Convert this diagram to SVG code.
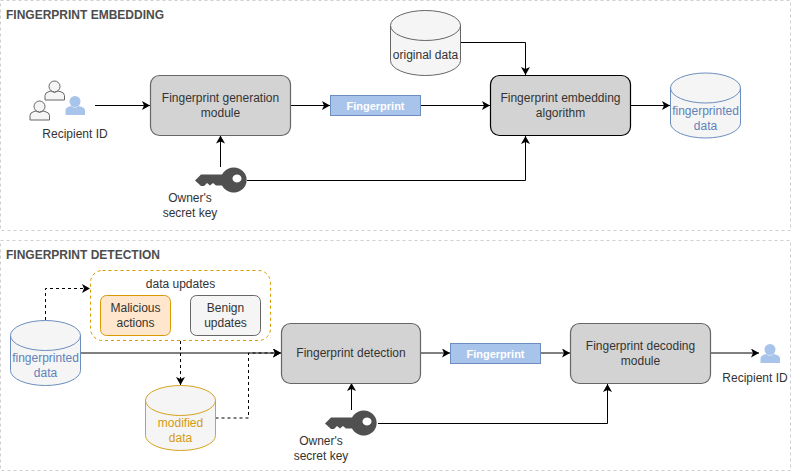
<svg xmlns="http://www.w3.org/2000/svg" width="801" height="471" viewBox="0 0 801 471">
<style>
text{font-family:"Liberation Sans",Arial,sans-serif;font-size:12px;fill:#333;text-anchor:middle}
.title{font-weight:bold;fill:#4d4d4d;text-anchor:start}
.panel{fill:#fff;stroke:#cfcfcf;stroke-dasharray:3 3}
.box{fill:#d3d3d3;stroke:#666;stroke-width:1.2}
.fp{fill:#a9c4eb;stroke:#6c8ebf}
.fpt{fill:#fff;font-weight:bold;font-size:11px}
.cyl{fill:#f5f5f5;stroke:#666}
.blue .cyl{stroke:#6c8ebf}
.blue text{fill:#5f82b8}
.gold .cyl{stroke:#d6a320}
.gold text{fill:#d49a10}
.line{fill:none;stroke:#000;stroke-width:1;marker-end:url(#arr)}
.dash{stroke-dasharray:3 3}
.key{fill:#505050}
.pg{fill:#f5f5f5;stroke:#666}
.pb{fill:#a9c4eb}
</style>
<defs>
<marker id="arr" markerUnits="userSpaceOnUse" markerWidth="9" markerHeight="10" refX="8" refY="4.5" orient="auto"><path d="M0 0L8 4.500L0 9L2 4.500Z" fill="#000"/></marker>
<path id="keyshape" fill-rule="evenodd" d="M0 12.500L6 6.500H27A13 12.500 0 1 1 27 17.500H21L18 15L15 17.500L12 15L9 18H6Z M42 6.500a4.500 4 0 1 0 .01 0Z"/>
<g id="person"><circle cx="9.500" cy="6.500" r="5.500"/><path d="M0 20V15.500Q0 12.500 4 11.500L6 11Q9.500 14 13 11L15 11.500Q19.500 12.500 19.500 15.500V20Z"/></g>
</defs>
<rect width="801" height="471" fill="#fff"/>
<g id="panels">
<rect id="panel-embedding" class="panel" x="0.500" y="0.500" width="790" height="230"/>
<rect id="panel-detection" class="panel" x="0.500" y="240.500" width="790" height="230"/>
<text class="title" x="6" y="19">FINGERPRINT EMBEDDING</text>
<text class="title" x="6" y="259">FINGERPRINT DETECTION</text>
</g>
<g id="connectors">
<path class="line" d="M95 105.500H150"/>
<path class="line" d="M290.500 105.500H330"/>
<path class="line" d="M420.500 105.500H490"/>
<path class="line" d="M630.500 105.500H670"/>
<path class="line" d="M460.500 42.500H525.500V75"/>
<path class="line" d="M220.500 167V135.500"/>
<path class="line" d="M247 180.500H525.500V136"/>
<path class="line dash" d="M45.500 320V288.500H90"/>
<path class="line" d="M80.500 353H281"/>
<path class="line dash" d="M180.500 341V385"/>
<path class="line dash" d="M215.500 418H248.500V353H281"/>
<path class="line" d="M420.500 353H450"/>
<path class="line" d="M540.500 353H570"/>
<path class="line" d="M710.500 353H759"/>
<path class="line" d="M351.500 410V383"/>
<path class="line" d="M378 423.500H607.500V384"/>
</g>
<g id="recipients">
<use href="#person" class="pg" x="45" y="80"/>
<use href="#person" class="pg" x="30" y="100"/>
<use href="#person" class="pb" x="65.500" y="95"/>
<text x="75" y="138">Recipient ID</text>
</g>
<g id="generation"><rect class="box" x="150.500" y="75.500" width="140" height="60" rx="9"/><text x="220.500" y="102">Fingerprint generation</text><text x="220.500" y="117">module</text></g>
<g id="fingerprint-1"><rect class="fp" x="330.500" y="95.500" width="90" height="20"/><text class="fpt" x="375.500" y="109.500">Fingerprint</text></g>
<g id="embedding"><rect class="box" style="stroke:#000" x="490.500" y="75.500" width="140" height="60" rx="9"/><text x="560.500" y="102">Fingerprint embedding</text><text x="560.500" y="117">algorithm</text></g>
<g id="original-data"><path class="cyl" d="M390.500 25.500A35 15 0 0 1 460.500 25.500V60.500A35 15 0 0 1 390.500 60.500Z"/><path class="cyl" style="fill:none" d="M390.500 25.500A35 15 0 0 0 460.500 25.500"/><text x="425.500" y="59">original data</text></g>
<g id="fingerprinted-1" class="blue"><path class="cyl" d="M670.500 88A35 15 0 0 1 740.500 88V123A35 15 0 0 1 670.500 123Z"/><path class="cyl" style="fill:none" d="M670.500 88A35 15 0 0 0 740.500 88"/><text x="705.500" y="115">fingerprinted</text><text x="705.500" y="130">data</text></g>
<g id="key-1"><use href="#keyshape" class="key" x="195" y="168"/><text x="190" y="202">Owner's</text><text x="190" y="217">secret key</text></g>
<g id="updates"><rect x="90.500" y="270.500" width="180" height="70" rx="12" fill="#fff" stroke="#d79b00" stroke-dasharray="3 3"/><text x="180.500" y="288">data updates</text></g>
<g id="malicious"><rect x="100.500" y="295.500" width="70" height="40" rx="6" fill="#ffe6cc" stroke="#d79b00"/><text x="135.500" y="312">Malicious</text><text x="135.500" y="327">actions</text></g>
<g id="benign"><rect x="190.500" y="295.500" width="70" height="40" rx="6" fill="#f5f5f5" stroke="#666"/><text x="225.500" y="312">Benign</text><text x="225.500" y="327">updates</text></g>
<g id="fingerprinted-2" class="blue"><path class="cyl" d="M10.500 335.500A35 15 0 0 1 80.500 335.500V370.500A35 15 0 0 1 10.500 370.500Z"/><path class="cyl" style="fill:none" d="M10.500 335.500A35 15 0 0 0 80.500 335.500"/><text x="45.500" y="362">fingerprinted</text><text x="45.500" y="377">data</text></g>
<g id="modified" class="gold"><path class="cyl" d="M145.500 400.500A35 15 0 0 1 215.500 400.500V435.500A35 15 0 0 1 145.500 435.500Z"/><path class="cyl" style="fill:none" d="M145.500 400.500A35 15 0 0 0 215.500 400.500"/><text x="180.500" y="427">modified</text><text x="180.500" y="442">data</text></g>
<g id="detection"><rect class="box" x="281.500" y="323.500" width="139" height="60" rx="9"/><text x="351" y="357">Fingerprint detection</text></g>
<g id="fingerprint-2"><rect class="fp" x="450.500" y="343.500" width="90" height="20"/><text class="fpt" x="495.500" y="357.500">Fingerprint</text></g>
<g id="decoding"><rect class="box" x="570.500" y="323.500" width="140" height="60" rx="9"/><text x="640.500" y="350">Fingerprint decoding</text><text x="640.500" y="365">module</text></g>
<g id="key-2"><use href="#keyshape" class="key" x="325" y="411"/><text x="321" y="445">Owner's</text><text x="321" y="460">secret key</text></g>
<g id="recipient-2"><use href="#person" class="pb" x="760.500" y="343"/><text x="755" y="382">Recipient ID</text></g>
</svg>
